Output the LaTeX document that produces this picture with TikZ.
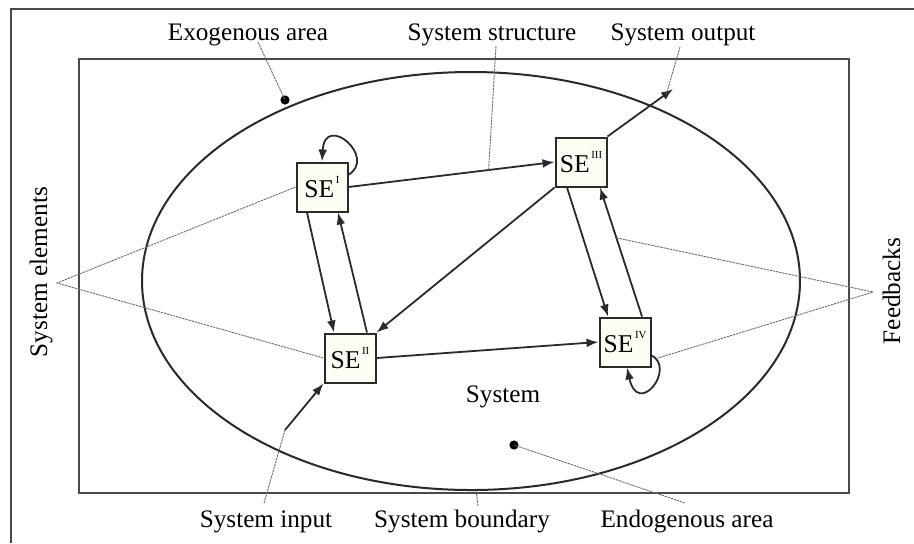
\documentclass[tikz,border=0pt]{standalone}
\usepackage{fontspec}
\setmainfont{Liberation Serif}
\usetikzlibrary{arrows.meta}
\definecolor{ink}{HTML}{2A2A2A}
\definecolor{boxfill}{HTML}{FDFDF4}
\definecolor{leader}{HTML}{6E6E6E}
% small roman numeral index of a system element
\newcommand{\senum}[1]{\kern0.8pt\raisebox{1.2ex}{\fontsize{5.4}{6}\selectfont #1}}

\begin{document}
\begin{tikzpicture}[x=0.5pt,y=-0.5pt,
  lbl/.style={font=\fontsize{12.6}{15}\selectfont, inner sep=0pt, anchor=base},
  elem/.style={draw=ink, line width=1pt, fill=boxfill, minimum width=25.5pt,
    minimum height=24.5pt, inner sep=0pt, font=\fontsize{12.8}{15}\selectfont},
  arr/.style={draw=ink, line width=0.9pt, -{Latex[length=6pt,width=4.4pt]}},
  leadline/.style={draw=leader, line width=0.45pt, dash pattern=on 1.2pt off 0.4pt},
  frame/.style={draw=ink!85, line width=1pt},
  dotmark/.style={circle, fill=black, inner sep=0pt, minimum size=4.6pt}]

\path[use as bounding box] (0,0) rectangle (914,543);

% frames and system boundary
\coordinate (fo) at (11,9);
\draw[frame] (914,9) -- (fo) -- (11,543);
\draw[frame] (79,59) rectangle (849,493);
\draw[draw=ink, line width=1pt] (471,281) ellipse [x radius=164.5pt, y radius=104.5pt];

% system elements
\node[elem] (SE1) at (322,187) {SE\senum{I}};
\node[elem] (SE2) at (350,358) {SE\senum{II}};
\node[elem] (SE3) at (581,162) {SE\senum{III}};
\node[elem] (SE4) at (625,342) {SE\senum{IV}};

% area markers
\node[dotmark] (exo) at (285,100) {};
\node[dotmark] (endo) at (514,445) {};

% relations between elements
\draw[arr] (SE1.east) -- coordinate[pos=0.68] (sp) (SE3.west);
\draw[arr] ([xshift=-7.5pt]SE1.south) -- ([xshift=-8pt]SE2.north);
\draw[arr] ([xshift=8.5pt]SE2.north) -- ([xshift=8pt]SE1.south);
\draw[arr] (SE3.south west) -- (SE2.north east);
\draw[arr] ([xshift=-7pt]SE3.south) -- ([xshift=-8.5pt]SE4.north);
\draw[arr] ([xshift=8.5pt]SE4.north) -- coordinate[pos=0.61] (fp) ([xshift=9.5pt]SE3.south);
\draw[arr] (SE2.east) -- (SE4.west);

% self-loops
\draw[arr] (348,175) .. controls (378,158) and (325,112) .. (SE1.north);
\draw[arr] (651,355) .. controls (677,368) and (638,418) .. ([xshift=1pt]SE4.south);
\coordinate (lp) at (658,358);

% input and output
\coordinate (in) at (285,430);
\coordinate (out) at (673,89);
\draw[arr] (in) -- (SE2.south west);
\draw[arr] (SE3.north east) -- coordinate[pos=0.9] (op) (out);

% labels
\node[lbl] (lexo) at (248,40) {Exogenous area};
\node[lbl] (lstr) at (492,40) {System structure};
\node[lbl] (lout) at (683,40) {System output};
\node[lbl] (lin) at (266,527) {System input};
\node[lbl] (lbnd) at (462,527) {System boundary};
\node[lbl] (lend) at (687,527) {Endogenous area};
\node[lbl] (lsys) at (503,402) {System};
\node[lbl, rotate=90] (lel) at (47,272) {System elements};
\node[lbl, rotate=90] (lfb) at (900,291) {Feedbacks};

% leader lines
\coordinate (aexo) at (258,42);
\coordinate (astr) at (496,46);
\coordinate (aout) at (680,47);
\coordinate (ain) at (264,503);
\coordinate (abnd) at (478,506);
\coordinate (bnd) at (476,490);
\coordinate (aend) at (685,503);
\coordinate (ael) at (57,283);
\coordinate (afb) at (873,292);

\draw[leadline] (aexo) -- (exo.center);
\draw[leadline] (astr) -- (sp);
\draw[leadline] (aout) -- (op);
\draw[leadline] (ain) -- (in);
\draw[leadline] (abnd) -- (bnd);
\draw[leadline] (aend) -- (endo.center);
\draw[leadline] (SE1.west) -- (ael) -- (SE2.west);
\draw[leadline] (fp) -- (afb) -- (lp);
\end{tikzpicture}
\end{document}
